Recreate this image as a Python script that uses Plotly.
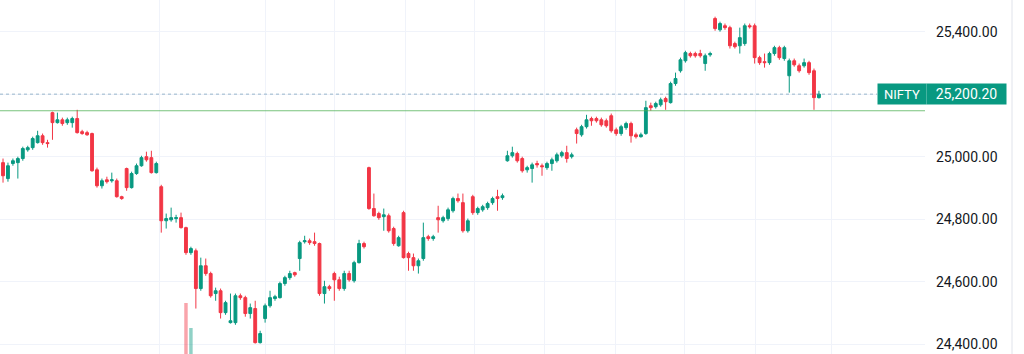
import plotly.graph_objects as go

# ---- data ----
opens = [24981, 24930, 24978, 24981, 24994, 25022, 25029, 25045, 25067, 25045,
         25141, 25109, 25118, 25109, 25109, 25122, 25080, 25077, 25074, 24958,
         24907, 24926, 24923, 24923, 24872, 24962, 24901, 24946, 24971, 25000,
         24997, 24949, 24904, 24795, 24798, 24802, 24805, 24773, 24693, 24699,
         24578, 24651, 24626, 24562, 24571, 24501, 24469, 24469, 24555, 24549,
         24498, 24514, 24405, 24482, 24523, 24546, 24549, 24594, 24613, 24629,
         24674, 24728, 24731, 24728, 24722, 24562, 24584, 24626, 24606, 24578,
         24626, 24603, 24661, 24722, 24965, 24834, 24818, 24808, 24811, 24770,
         24715, 24821, 24690, 24677, 24651, 24674, 24744, 24738, 24805, 24795,
         24802, 24827, 24866, 24853, 24763, 24872, 24821, 24830, 24837, 24853,
         24872, 24869, 24987, 25003, 25010, 24994, 24958, 24962, 24978, 24971,
         24965, 24978, 24987, 25003, 25013, 25000, 25086, 25070, 25096, 25122,
         25122, 25118, 25115, 25131, 25086, 25074, 25093, 25106, 25070, 25064,
         25074, 25163, 25160, 25166, 25186, 25173, 25234, 25275, 25307, 25330,
         25330, 25330, 25298, 25326, 25442, 25406, 25419, 25413, 25362, 25355,
         25362, 25419, 25419, 25317, 25304, 25301, 25330, 25349, 25314, 25259,
         25307, 25291, 25291, 25301, 25275, 25189]
highs = [24994, 24981, 24994, 25000, 25032, 25035, 25064, 25083, 25074, 25054,
         25144, 25141, 25125, 25125, 25128, 25150, 25086, 25083, 25077, 24965,
         24930, 24936, 24949, 24930, 24875, 24965, 24952, 24978, 25003, 25016,
         25019, 24984, 24910, 24818, 24837, 24814, 24821, 24776, 24712, 24706,
         24677, 24674, 24632, 24581, 24578, 24539, 24562, 24562, 24562, 24555,
         24530, 24539, 24443, 24530, 24571, 24558, 24600, 24619, 24635, 24632,
         24731, 24747, 24738, 24757, 24725, 24603, 24590, 24632, 24616, 24635,
         24635, 24667, 24734, 24728, 24968, 24882, 24824, 24834, 24818, 24776,
         24747, 24827, 24696, 24690, 24674, 24789, 24750, 24750, 24843, 24811,
         24837, 24872, 24882, 24882, 24802, 24878, 24840, 24846, 24856, 24872,
         24894, 24882, 25019, 25032, 25016, 25000, 24971, 24981, 24987, 24978,
         24984, 24997, 25013, 25019, 25035, 25013, 25093, 25102, 25134, 25128,
         25128, 25125, 25122, 25138, 25093, 25102, 25112, 25112, 25077, 25077,
         25179, 25173, 25176, 25189, 25192, 25240, 25269, 25317, 25339, 25336,
         25336, 25342, 25330, 25336, 25448, 25432, 25426, 25419, 25368, 25413,
         25426, 25426, 25426, 25323, 25330, 25336, 25355, 25355, 25355, 25314,
         25314, 25298, 25314, 25307, 25282, 25211]
lows = [24917, 24920, 24971, 24930, 24987, 25016, 25022, 25042, 25038, 25029,
        25054, 25106, 25099, 25102, 25093, 25074, 25070, 25067, 24952, 24901,
        24898, 24914, 24917, 24869, 24862, 24891, 24898, 24942, 24968, 24984,
        24946, 24946, 24757, 24770, 24792, 24789, 24770, 24686, 24686, 24514,
        24571, 24619, 24549, 24539, 24482, 24494, 24466, 24462, 24542, 24488,
        24482, 24402, 24402, 24469, 24517, 24539, 24546, 24587, 24606, 24616,
        24635, 24722, 24718, 24715, 24555, 24530, 24571, 24539, 24571, 24571,
        24600, 24597, 24658, 24706, 24830, 24808, 24798, 24763, 24757, 24715,
        24712, 24674, 24635, 24635, 24626, 24667, 24731, 24731, 24757, 24789,
        24795, 24821, 24853, 24757, 24757, 24814, 24814, 24824, 24830, 24846,
        24827, 24862, 24984, 24997, 24981, 24949, 24949, 24917, 24965, 24939,
        24958, 24955, 24981, 24997, 24981, 24994, 25042, 25064, 25090, 25099,
        25109, 25096, 25093, 25077, 25067, 25067, 25086, 25045, 25058, 25061,
        25070, 25147, 25154, 25160, 25150, 25170, 25227, 25269, 25301, 25317,
        25317, 25317, 25275, 25320, 25403, 25400, 25406, 25346, 25346, 25330,
        25355, 25410, 25298, 25294, 25285, 25294, 25323, 25310, 25307, 25205,
        25288, 25269, 25285, 25262, 25150, 25186]
closes = [24939, 24971, 24987, 24994, 25026, 25029, 25058, 25067, 25045, 25042,
          25109, 25118, 25106, 25118, 25122, 25077, 25074, 25070, 24955, 24907,
          24923, 24920, 24926, 24872, 24866, 24901, 24946, 24971, 24997, 24990,
          24949, 24978, 24795, 24802, 24805, 24805, 24773, 24693, 24706, 24578,
          24651, 24626, 24555, 24571, 24501, 24533, 24475, 24555, 24549, 24498,
          24517, 24405, 24434, 24523, 24549, 24552, 24594, 24613, 24626, 24622,
          24725, 24731, 24725, 24722, 24562, 24584, 24578, 24606, 24578, 24626,
          24606, 24661, 24722, 24712, 24834, 24811, 24805, 24814, 24763, 24722,
          24741, 24677, 24677, 24651, 24667, 24741, 24738, 24744, 24798, 24805,
          24830, 24866, 24859, 24763, 24795, 24821, 24834, 24840, 24850, 24866,
          24866, 24875, 25003, 25013, 24987, 24955, 24965, 24974, 24974, 24968,
          24978, 24990, 25006, 25013, 24994, 25006, 25074, 25096, 25118, 25115,
          25115, 25102, 25099, 25083, 25074, 25096, 25106, 25067, 25064, 25070,
          25157, 25157, 25170, 25182, 25176, 25234, 25250, 25310, 25333, 25323,
          25323, 25323, 25323, 25330, 25410, 25426, 25413, 25355, 25352, 25381,
          25419, 25416, 25317, 25301, 25301, 25330, 25349, 25317, 25349, 25307,
          25294, 25275, 25301, 25269, 25189, 25200.20]

volume_idx = [37, 38]
volume_vals = [510, 260]
volume_colors = ["rgba(242,54,69,0.45)", "rgba(8,153,129,0.45)"]

symbol = "NIFTY"
last_price = 25200.20
level_line = 25147
tick_vals = [24400, 24600, 24800, 25000, 25200, 25400]
tick_text = ["24,400.00", "24,600.00", "24,800.00", "25,000.00", "", "25,400.00"]
vgrid_idx = [31.7, 53, 67.1, 81.3, 95.4, 109.6, 123.8, 137.9, 152.1, 167.6]

UP = "#089981"
DOWN = "#f23645"

x = list(range(len(opens)))

fig = go.Figure()
fig.add_trace(go.Bar(
    x=volume_idx, y=volume_vals, marker=dict(color=volume_colors, line_width=0),
    width=0.7, yaxis="y2", showlegend=False, hoverinfo="skip"))
fig.add_trace(go.Candlestick(
    x=x, open=opens, high=highs, low=lows, close=closes,
    increasing=dict(line=dict(color=UP, width=1), fillcolor=UP),
    decreasing=dict(line=dict(color=DOWN, width=1), fillcolor=DOWN),
    whiskerwidth=0, showlegend=False))

fig.update_layout(
    width=1024, height=354,
    margin=dict(l=0, r=99, t=0, b=0),
    paper_bgcolor="white", plot_bgcolor="white",
    showlegend=False,
    boxgap=0.18,
    font=dict(family="Roboto", color="#131722"),
    xaxis=dict(range=[-0.61, 186.45], rangeslider=dict(visible=False),
               showticklabels=False, ticks="", tickvals=vgrid_idx,
               showgrid=True, gridcolor="#f0f3fa", gridwidth=1,
               zeroline=False, showline=False, fixedrange=True),
    yaxis=dict(range=[24368.6, 25501.4], side="right", tickvals=tick_vals,
               ticktext=tick_text, ticks="", ticklabelstandoff=10,
               tickfont=dict(size=14, color="#131722", family="Roboto"),
               showgrid=True, gridcolor="#f0f3fa", gridwidth=1,
               zeroline=False, showline=False),
    yaxis2=dict(range=[0, 3540], overlaying="y", visible=False),
)

# horizontal level line
fig.add_shape(type="line", xref="paper", yref="y", x0=0, x1=1,
              y0=level_line, y1=level_line,
              line=dict(color="rgba(76,175,80,0.75)", width=1))
# last price dotted line
fig.add_shape(type="line", xref="paper", yref="y", x0=0, x1=877 / 925,
              y0=last_price, y1=last_price,
              line=dict(color="rgba(90,140,170,0.6)", width=1, dash="dot"))
# price scale border
fig.add_shape(type="line", xref="paper", yref="paper", x0=1012 / 925, x1=1012 / 925,
              y0=0, y1=1, line=dict(color="#e0e3eb", width=1))

fig.add_annotation(x=877 / 925, y=last_price, xref="paper", yref="y",
                   xanchor="left", yanchor="middle", text=symbol, showarrow=False,
                   width=46, height=18, borderpad=1, bgcolor=UP,
                   font=dict(color="white", size=13, family="Roboto"))
fig.add_annotation(x=926 / 925, y=last_price, xref="paper", yref="y",
                   xanchor="left", yanchor="middle", text=f"{last_price:,.2f}",
                   showarrow=False, width=77, height=18, borderpad=1, bgcolor=UP,
                   font=dict(color="white", size=14, family="Roboto"))

fig.write_html("out.html")
